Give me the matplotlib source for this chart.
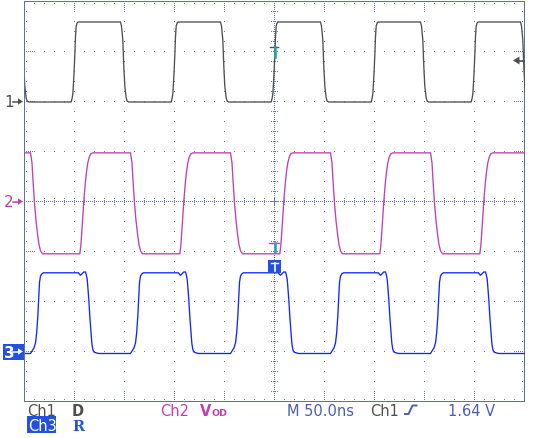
import numpy as np
import matplotlib
matplotlib.use("Agg")
import matplotlib.pyplot as plt
from matplotlib.transforms import Affine2D
from matplotlib.patches import Rectangle, Polygon
from matplotlib.lines import Line2D
from matplotlib.colors import to_rgba

W, H, DPI = 548, 439, 100

# ---------------- data (time in ns, 50 ns/div ; level in vertical divisions) ----------------
ch1_levels = (1.99, 3.59)            # low, high
ch1_rise_times = [-203.3, -103.3, -3.3, 96.7, 196.7]
ch1_fall_times = [-254.0, -154.0, -54.0, 46.0, 146.0, 246.0]
ch1_rise_dt = [0, 1, 1.7, 2.3, 3, 3.7, 4.3, 5, 6, 7]
ch1_rise_frac = [0, 0.05, 0.11, 0.24, 0.41, 0.61, 0.82, 0.95, 0.99, 1.0]
ch1_fall_dt = [0, 1, 2.3, 3.3, 4.3, 5.7, 6.7, 8.3]
ch1_fall_frac = [1, 0.95, 0.78, 0.45, 0.2, 0.05, 0.01, 0]

ch2_levels = (-1.046, 0.973)
ch2_rise_times = [-194.7, -94.7, 5.3, 105.3, 205.3]
ch2_fall_times = [-244.0, -144.0, -44.0, 56.0, 156.0]
ch2_rise_dt = [0, 1, 2.5, 4, 5.5, 6.8, 8, 9.5, 11, 13]
ch2_rise_frac = [0, 0.08, 0.29, 0.52, 0.70, 0.82, 0.90, 0.96, 0.99, 1.0]
ch2_fall_dt = [0, 1.5, 2.8, 4, 5.5, 7, 8.5, 10, 12]
ch2_fall_frac = [1, 0.9, 0.68, 0.5, 0.33, 0.2, 0.09, 0.03, 0]

ch3_levels = (-3.04, -1.426)
ch3_rise_times = [-244.0, -144.0, -44.0, 56.0, 156.0]
ch3_fall_times = [-196.0, -96.0, 4.0, 104.0, 204.0]
ch3_rise_dt = [0, 1, 3.5, 5, 6.2, 7.3, 8.3, 9, 10, 11.5, 13]
ch3_rise_frac = [0, 0.02, 0.07, 0.13, 0.26, 0.46, 0.70, 0.88, 0.96, 0.99, 1.0]
ch3_fall_dt = [0, 1, 2, 3.7, 5.3, 7, 7.7, 8.7, 9.3, 10.3, 11.3, 12.3, 13.3, 14.3, 15.3, 17, 20.3]
ch3_fall_frac = [1, 0.98, 0.97, 0.99, 1.01, 1.01, 0.98, 0.92, 0.83, 0.67, 0.46, 0.30, 0.13,
                 0.05, 0.02, 0.01, 0]

status_left = ["Ch1", "D", "Ch2", "V", "OD"]
status_right = ["M 50.0ns", "Ch1", "1.64 V"]
status_row2 = ["Ch3", "R"]

# ---------------- colours ----------------
GRID = "#62709e"
DOTS = "#6c7aa8"
C1 = "#4f4f4f"
C2 = "#c23fae"
C3 = "#1228f2"
BOX = "#2450e0"
STAT = "#4b5fae"
TEAL = "#1fa3b5"


def trace(levels, rise_t, rise_dt, rise_fr, fall_t, fall_dt, fall_fr):
    lo, hi = levels
    edges = sorted([(t, 'r') for t in rise_t] + [(t, 'f') for t in fall_t])
    ts = [-262.0]
    fr = [1.0 if edges[0][1] == 'f' else 0.0]
    for t, k in edges:
        dts, frs = (rise_dt, rise_fr) if k == 'r' else (fall_dt, fall_fr)
        for d, f in zip(dts, frs):
            ts.append(t + d)
            fr.append(f)
    ts.append(262.0)
    fr.append(fr[-1])
    return ts, [lo + f * (hi - lo) for f in fr]


fig = plt.figure(figsize=(W / DPI, H / DPI), dpi=DPI)
fig.patch.set_facecolor("white")

# ---------------- graticule as a pixel overlay ----------------
L, R, T, B, CX, CY = 24, 524, 2, 402, 274, 202
grat = np.zeros((H, W, 4))
dc = np.array(to_rgba(DOTS))
fc = np.array(to_rgba(GRID))

def dot(r, c, col=dc):
    grat[r, c] = col

major_c = [L + 50 * k for k in range(1, 10)]
major_r = [T + 50 * k for k in range(1, 8)]
for c in major_c:
    if c == CX:
        continue
    for r in range(T + 10, B, 10):
        dot(r, c)
for r in major_r:
    if r == CY:
        continue
    for c in range(L + 10, R, 10):
        dot(r, c)
# centre lines with tick marks
for r in range(T + 2, B, 2):
    dot(r, CX)
for c in range(L + 2, R, 2):
    dot(CY, c)
for r in range(T + 10, B, 10):
    for d in (-3, -1, 1, 3):
        dot(r, CX + d)
for c in range(L + 10, R, 10):
    for d in (-3, -1, 1, 3):
        dot(CY + d, c)
# border ticks
for r in range(T + 10, B, 10):
    dot(r, L + 2); dot(r, R - 2)
for c in range(L + 10, R, 10):
    dot(T + 2, c); dot(B - 2, c)
for r in major_r:
    for d in (2, 4, 6, 8):
        dot(r, L + d); dot(r, R - d)
for c in major_c:
    for d in (2, 4, 6, 8):
        dot(T + d, c); dot(B - d, c)
# frame
grat[T, L:R + 1] = fc
grat[B, L:R + 1] = fc
grat[T:B + 1, L] = fc
grat[T:B + 1, R] = fc
fig.figimage(grat, 0, 0, origin="upper", zorder=0)

ax = fig.add_axes([24.5 / W, 36.5 / H, 500 / W, 400 / H])
ax.set_zorder(1)
ax.patch.set_alpha(0)
ax.set_xlim(-250, 250)
ax.set_ylim(-4, 4)
ax.set_xticks([])
ax.set_yticks([])
for s in ax.spines.values():
    s.set_visible(False)

# ---------------- traces ----------------
for (lv, rt, rdt, rfr, ft, fdt, ffr, col) in [
        (ch1_levels, ch1_rise_times, ch1_rise_dt, ch1_rise_frac,
         ch1_fall_times, ch1_fall_dt, ch1_fall_frac, C1),
        (ch2_levels, ch2_rise_times, ch2_rise_dt, ch2_rise_frac,
         ch2_fall_times, ch2_fall_dt, ch2_fall_frac, C2),
        (ch3_levels, ch3_rise_times, ch3_rise_dt, ch3_rise_frac,
         ch3_fall_times, ch3_fall_dt, ch3_fall_frac, C3)]:
    xs, ys = trace(lv, rt, rdt, rfr, ft, fdt, ffr)
    ax.plot(xs, ys, color=col, lw=0.95, solid_joinstyle="round", zorder=3)

# ---------------- pixel-space decorations ----------------
PX = Affine2D().scale(1, -1).translate(0, H)

def pline(xs, ys, col, lw=1.0, z=5):
    fig.add_artist(Line2D(xs, ys, transform=PX, color=col, lw=lw, zorder=z))

def prect(x0, y0, x1, y1, col, z=5):
    fig.add_artist(Rectangle((x0, y1), x1 - x0, y0 - y1, transform=PX,
                             facecolor=col, edgecolor="none", zorder=z))

def ptext(x, y, s, col, size=10, weight="normal", family="DejaVu Sans", va="baseline", z=6):
    fig.text(x, y, s, transform=PX, color=col, fontsize=size, fontweight=weight,
             family=family, va=va, ha="left", zorder=z)

def arrow(x0, y, col):
    pline([x0, x0 + 6], [y, y], col, lw=1.1)
    fig.add_artist(Polygon([[x0 + 5, y - 3.2], [x0 + 10, y], [x0 + 5, y + 3.2]],
                           closed=True, transform=PX, facecolor=col,
                           edgecolor="none", zorder=6))

# channel markers on the left
ptext(4.5, 102.8, "1", C1, size=11, va="center")
arrow(13, 102.5, C1)
ptext(4, 202.8, "2", C2, size=11, va="center")
arrow(13, 202.5, C2)
prect(3, 345, 24, 361, BOX)
ptext(4, 353.3, "3", "white", size=11, weight="bold", va="center")
arrow(13, 352.5, "white")

# trigger level arrow on the right
fig.add_artist(Polygon([[513, 61.5], [519.5, 57.5], [519.5, 65.5]], closed=True,
                       transform=PX, facecolor=C1, edgecolor="none", zorder=6))
pline([519, 524], [61.5, 61.5], C1, lw=1.2)

# trigger position markers
pline([270, 278], [47.5, 47.5], C1, lw=1.0)
pline([274.5, 274.5], [47.5, 58], TEAL, lw=1.8)
pline([269, 279], [243.5, 243.5], C2, lw=1.0)
pline([274.5, 274.5], [243.5, 253], TEAL, lw=1.8)
prect(268, 261, 281, 274, BOX)
pline([271, 278], [263.5, 263.5], "white", lw=1.0)
pline([274.5, 274.5], [263.5, 272], "white", lw=1.2)

# ---------------- status readout ----------------
ptext(27, 416, status_left[0], C1, size=10.5)
ptext(72, 416, status_left[1], C1, size=10.5, weight="bold")
ptext(160, 416, status_left[2], C2, size=10.5)
ptext(200, 416, status_left[3], C2, size=10.5, weight="bold")
ptext(211.5, 416, status_left[4], C2, size=6.8, weight="bold")
ptext(287, 416, status_right[0], STAT, size=10.5)
ptext(370, 416, status_right[1], C1, size=10.5)
pline([405, 408.5, 412.5, 416.5], [415, 415, 406.5, 406.5], STAT, lw=1.4)
ptext(448, 416, status_right[2], STAT, size=10.5)
prect(27, 417, 56, 434, BOX)
ptext(28, 431, status_row2[0], "white", size=10.5)
ptext(72, 431, status_row2[1], BOX, size=10.5, weight="bold", family="DejaVu Serif")

fig.savefig("out.png", dpi=DPI, facecolor="white")
